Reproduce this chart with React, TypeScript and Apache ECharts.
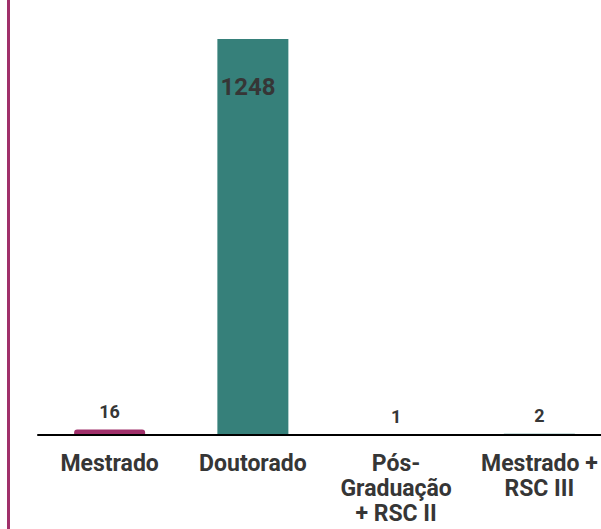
import React, { useEffect, useRef } from "react";
import * as echarts from "echarts";

const categories = ["Mestrado", "Doutorado", "Pós-\nGraduação\n+ RSC II", "Mestrado +\nRSC III"];
const values = [16, 1248, 1, 2];
const barColors = ["#A0306A", "#36807A", "#36807A", "#36807A"];

export default function App() {
  const ref = useRef<HTMLDivElement>(null);
  useEffect(() => {
    if (!ref.current) return;
    const chart = echarts.init(ref.current, undefined, { renderer: "svg" });
    chart.setOption({
      animation: false,
      textStyle: { fontFamily: "Roboto" },
      graphic: [
        {
          type: "rect",
          shape: { x: 7, y: 0, width: 3, height: 529 },
          style: { fill: "#A0306A" },
        },
      ],
      grid: { left: 38, right: 0, top: 39, bottom: 94.5, containLabel: false },
      xAxis: {
        type: "category",
        data: categories,
        z: 5,
        axisLine: { show: true, lineStyle: { color: "#000", width: 2 } },
        axisTick: { show: false },
        axisLabel: {
          interval: 0,
          margin: 16,
          fontSize: 23,
          lineHeight: 25,
          fontWeight: "bold",
          color: "#363636",
          fontFamily: "Roboto",
        },
      },
      yAxis: {
        type: "value",
        min: 0,
        max: 1248,
        show: false,
        splitLine: { show: false },
      },
      series: [
        {
          type: "bar",
          barWidth: 71,
          data: values.map((v, i) => ({
            value: v,
            itemStyle: {
              color: barColors[i],
              borderRadius: i === 0 ? [3, 3, 0, 0] : 0,
            },
            label:
              i === 1
                ? {
                    show: true,
                    position: [3, 36],
                    fontSize: 24,
                    lineHeight: 24,
                    fontWeight: "bold",
                    color: "#363636",
                    fontFamily: "Roboto",
                  }
                : {
                    show: true,
                    position: "top",
                    distance: 9,
                    fontSize: 18,
                    lineHeight: 18,
                    fontWeight: "bold",
                    color: "#363636",
                    fontFamily: "Roboto",
                  },
          })),
        },
      ],
    });
    return () => chart.dispose();
  }, []);
  return (
    <div style={{ position: "fixed", left: 0, top: 0, width: 601, height: 529, overflow: "hidden", background: "#fff" }}>
      <div ref={ref} style={{ width: 611, height: 529 }} />
    </div>
  );
}
